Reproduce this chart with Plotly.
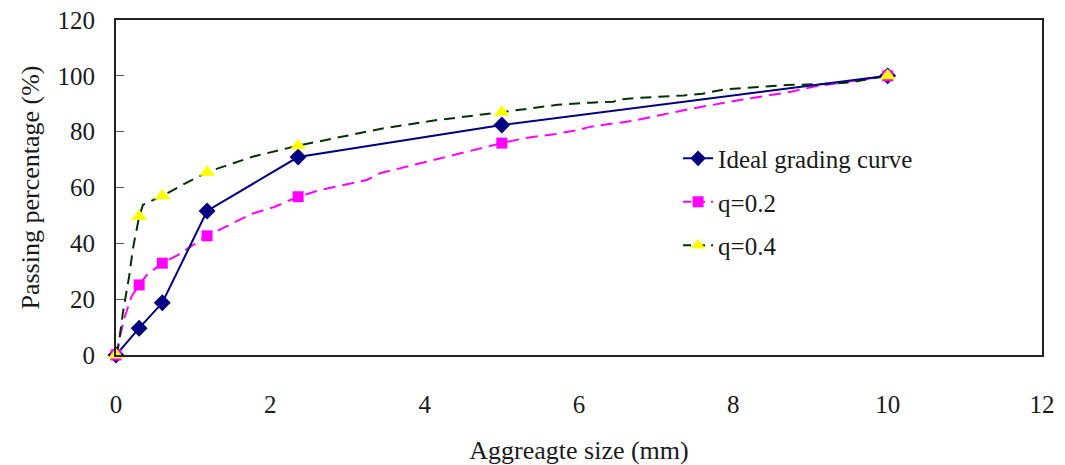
import plotly.graph_objects as go

# ---- data ----
sieve_sizes = [0, 0.3, 0.6, 1.18, 2.36, 5, 10]
ideal_passing = [0, 9.6, 18.7, 51.6, 70.9, 82.4, 100]
q02_passing = [0, 25.1, 32.9, 42.7, 56.7, 75.9, 100]
q04_passing = [0, 49.6, 57.0, 65.5, 75.0, 87.0, 100]

q02_curve_x = [0, 0.1, 0.2, 0.3, 0.4, 0.6, 0.8, 0.96, 1.18, 1.5, 1.75, 2.05, 2.36,
               2.65, 3.25, 3.42, 4.03, 4.37, 4.72, 5, 5.3, 5.7, 6.0, 6.15, 6.7,
               7.15, 7.45, 8.1, 8.75, 9.05, 9.35, 9.7, 10]
q02_curve_y = [0, 12.5, 20.9, 25.1, 28.7, 32.9, 35.8, 38.8, 42.7, 47.0, 50.5, 53.0, 56.7,
               59.1, 62.7, 65.1, 69.3, 71.7, 74.1, 75.9, 77.7, 79.2, 80.6, 81.8, 83.9,
               86.6, 88.2, 91.4, 94.3, 96.2, 97.4, 98.6, 100]

q04_curve_x = [0, 0.03, 0.095, 0.17, 0.22, 0.27, 0.3, 0.35, 0.44, 0.6, 0.9, 1.18, 1.52,
               1.78, 2.36, 2.82, 3.25, 3.47, 4.12, 5, 5.72, 6.15, 6.45, 6.5, 6.71, 7.36,
               7.6, 7.9, 8.2, 8.7, 9.1, 9.5, 10]
q04_curve_y = [0, 3.0, 16.1, 28.1, 38.2, 46.0, 49.6, 53.8, 54.9, 57.0, 61.5, 65.5, 68.7,
               71.1, 75.0, 77.7, 80.0, 81.2, 84.0, 87.0, 89.6, 90.4, 90.7, 91.5, 92.0, 93.0,
               93.6, 95.2, 95.8, 96.7, 97.0, 97.6, 100]

x_ticks = [0, 2, 4, 6, 8, 10, 12]
y_ticks = [0, 20, 40, 60, 80, 100, 120]

NAVY = "#000080"
MAGENTA = "#FF00FF"
YELLOW = "#FFFF00"
DGREEN = "#003300"
FONT = "Liberation Serif"
TXT = "#1a1a1a"

fig = go.Figure()

# curves
fig.add_trace(go.Scatter(x=q02_curve_x, y=q02_curve_y, mode="lines",
                         line=dict(color=MAGENTA, width=2, dash="12px,7px"),
                         showlegend=False, hoverinfo="skip"))
fig.add_trace(go.Scatter(x=q04_curve_x, y=q04_curve_y, mode="lines",
                         line=dict(color=DGREEN, width=2, dash="11px,7px"),
                         showlegend=False, hoverinfo="skip"))
fig.add_trace(go.Scatter(x=sieve_sizes, y=ideal_passing, mode="lines+markers",
                         line=dict(color=NAVY, width=2),
                         marker=dict(symbol="diamond", size=13, color=NAVY),
                         showlegend=False, cliponaxis=False))
# markers
fig.add_trace(go.Scatter(x=sieve_sizes, y=q02_passing, mode="markers",
                         marker=dict(symbol="square", size=11, color=MAGENTA),
                         showlegend=False, cliponaxis=False))
fig.add_trace(go.Scatter(x=sieve_sizes, y=q04_passing, mode="markers",
                         marker=dict(symbol="triangle-up", size=14, color=YELLOW),
                         showlegend=False, cliponaxis=False))

# legend entries
fig.add_trace(go.Scatter(x=[None], y=[None], mode="lines+markers", name="Ideal grading curve",
                         line=dict(color=NAVY, width=2),
                         marker=dict(symbol="diamond", size=12, color=NAVY),
                         legendgroup="a"))
fig.add_trace(go.Scatter(x=[None], y=[None], mode="lines+markers", name="q=0.2",
                         line=dict(color=MAGENTA, width=2, dash="8px,6px"),
                         marker=dict(symbol="square", size=11, color=MAGENTA),
                         legendgroup="b"))
fig.add_trace(go.Scatter(x=[None], y=[None], mode="lines+markers", name="q=0.4",
                         line=dict(color=DGREEN, width=2, dash="8px,6px"),
                         marker=dict(symbol="triangle-up", size=13, color=YELLOW),
                         legendgroup="c"))

fig.update_layout(
    width=1065, height=465,
    margin=dict(l=116, r=23, t=20, b=110, autoexpand=False),
    paper_bgcolor="white", plot_bgcolor="white",
    font=dict(family=FONT, size=25, color=TXT),
    showlegend=True,
    legend=dict(x=0.607, y=0.655, xanchor="left", yanchor="top",
                bgcolor="rgba(0,0,0,0)", borderwidth=0,
                font=dict(family=FONT, size=25, color=TXT),
                tracegroupgap=8, traceorder="grouped"),
    xaxis=dict(range=[0, 12], tickvals=x_ticks, ticktext=[str(v) for v in x_ticks],
               showgrid=False, zeroline=False, showline=True, linecolor="#222222",
               linewidth=2, mirror=True, ticks="", ticklabelstandoff=26, automargin=False,
               title=dict(text="Aggreagte size (mm)", font=dict(size=26), standoff=28)),
    yaxis=dict(range=[0, 120], tickvals=y_ticks, ticktext=[str(v) for v in y_ticks],
               showgrid=False, zeroline=False, showline=True, linecolor="#222222",
               linewidth=2, mirror=True, ticks="inside", ticklen=8, tickwidth=1,
               tickcolor="#555555", ticklabelstandoff=14, automargin=False,
               title=dict(text="Passing percentage (%)", font=dict(size=26), standoff=10)),
)

fig.write_html("out.html")
